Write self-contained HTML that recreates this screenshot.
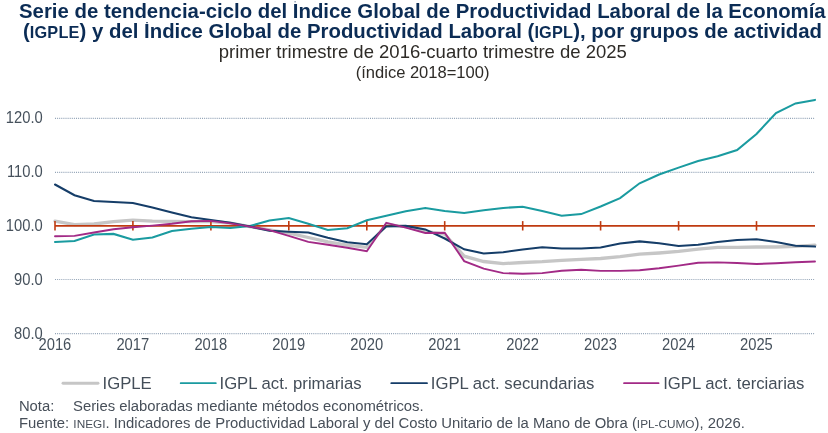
<!DOCTYPE html>
<html lang="es">
<head>
<meta charset="utf-8">
<title>IGPLE</title>
<style>
html,body{margin:0;padding:0;background:#fff;}
body{width:828px;height:433px;overflow:hidden;font-family:"Liberation Sans",sans-serif;}
svg{display:block;will-change:transform;opacity:0.9999;}
text{font-family:"Liberation Sans",sans-serif;}
.t1{font-size:20.36px;font-weight:bold;fill:#0b2c55;}
.sc{font-size:16.3px;letter-spacing:0.2px;}
.t3{font-size:18.5px;fill:#2e2b27;}
.t4{font-size:16.55px;fill:#2e2b27;}
.ax{font-size:15.75px;fill:#46515c;}
.lg{font-size:16.7px;fill:#444e59;}
.fn{font-size:14.85px;fill:#474f59;}
.fsc{font-size:11.8px;}
</style>
</head>
<body>
<svg width="828" height="433" viewBox="0 0 828 433">
<rect width="828" height="433" fill="#ffffff"/>
<text x="422.35" y="17.5" text-anchor="middle" class="t1">Serie de tendencia-ciclo del Índice Global de Productividad Laboral de la Economía</text>
<text x="422.5" y="37.8" text-anchor="middle" class="t1">(<tspan class="sc">IGPLE</tspan>) y del Índice Global de Productividad Laboral (<tspan class="sc">IGPL</tspan>), por grupos de actividad</text>
<rect x="292.5" y="0" width="8.5" height="3.4" fill="#ffffff"/>
<rect x="294.3" y="1.1" width="1.7" height="1.3" fill="#0b2c55" opacity="0.42"/>
<rect x="143.5" y="19" width="8.5" height="4.4" fill="#ffffff"/>
<rect x="146.1" y="22" width="1.8" height="1.2" fill="#0b2c55" opacity="0.8"/>
<text x="422.8" y="57.6" text-anchor="middle" class="t3">primer trimestre de 2016-cuarto trimestre de 2025</text>
<text x="422.6" y="78.2" text-anchor="middle" class="t4">(índice 2018=100)</text>
<line x1="55.0" y1="118.3" x2="815.0" y2="118.3" stroke="#93a4b7" stroke-width="1.15" stroke-dasharray="1 1.1"/>
<line x1="55.0" y1="172.3" x2="815.0" y2="172.3" stroke="#93a4b7" stroke-width="1.15" stroke-dasharray="1 1.1"/>
<line x1="55.0" y1="279.5" x2="815.0" y2="279.5" stroke="#93a4b7" stroke-width="1.15" stroke-dasharray="1 1.1"/>
<line x1="55.0" y1="333.6" x2="815.0" y2="333.6" stroke="#93a4b7" stroke-width="1.15" stroke-dasharray="1 1.1"/>
<text transform="translate(42.7,123.2) scale(0.936,1)" text-anchor="end" class="ax">120.0</text>
<text transform="translate(42.7,177.2) scale(0.936,1)" text-anchor="end" class="ax">110.0</text>
<text transform="translate(42.7,230.7) scale(0.936,1)" text-anchor="end" class="ax">100.0</text>
<text transform="translate(42.7,284.8) scale(0.936,1)" text-anchor="end" class="ax">90.0</text>
<text transform="translate(42.7,338.9) scale(0.936,1)" text-anchor="end" class="ax">80.0</text>
<text transform="translate(54.9,350.0) scale(0.936,1)" text-anchor="middle" class="ax">2016</text>
<text transform="translate(132.8,350.0) scale(0.936,1)" text-anchor="middle" class="ax">2017</text>
<text transform="translate(210.8,350.0) scale(0.936,1)" text-anchor="middle" class="ax">2018</text>
<text transform="translate(288.7,350.0) scale(0.936,1)" text-anchor="middle" class="ax">2019</text>
<text transform="translate(366.7,350.0) scale(0.936,1)" text-anchor="middle" class="ax">2020</text>
<text transform="translate(444.6,350.0) scale(0.936,1)" text-anchor="middle" class="ax">2021</text>
<text transform="translate(522.6,350.0) scale(0.936,1)" text-anchor="middle" class="ax">2022</text>
<text transform="translate(600.5,350.0) scale(0.936,1)" text-anchor="middle" class="ax">2023</text>
<text transform="translate(678.5,350.0) scale(0.936,1)" text-anchor="middle" class="ax">2024</text>
<text transform="translate(756.4,350.0) scale(0.936,1)" text-anchor="middle" class="ax">2025</text>
<polyline points="55.0,221.2 74.5,224.6 94.0,224.0 113.5,221.6 132.9,220.2 152.4,221.1 171.9,221.4 191.4,221.6 210.9,221.5 230.4,223.2 249.9,226.6 269.4,229.8 288.8,233.2 308.3,237.5 327.8,241.9 347.3,245.1 366.8,247.3 386.3,224.7 405.8,226.6 425.3,231.3 444.7,234.2 464.2,256.2 483.7,261.5 503.2,263.6 522.7,262.5 542.2,261.7 561.7,260.3 581.2,259.3 600.6,258.5 620.1,256.6 639.6,254.2 659.1,253.0 678.6,251.4 698.1,249.2 717.6,247.3 737.1,247.3 756.5,247.0 776.0,247.0 795.5,246.3 815.0,245.1" fill="none" stroke="#c6c6c6" stroke-width="3.3" stroke-linejoin="miter" stroke-linecap="round"/>
<line x1="55.0" y1="225.8" x2="815.0" y2="225.8" stroke="#bf3a10" stroke-width="1.8"/>
<line x1="55.0" y1="221.1" x2="55.0" y2="230.5" stroke="#bf3a10" stroke-width="1.6"/>
<line x1="132.9" y1="221.1" x2="132.9" y2="230.5" stroke="#bf3a10" stroke-width="1.6"/>
<line x1="210.9" y1="221.1" x2="210.9" y2="230.5" stroke="#bf3a10" stroke-width="1.6"/>
<line x1="288.8" y1="221.1" x2="288.8" y2="230.5" stroke="#bf3a10" stroke-width="1.6"/>
<line x1="366.8" y1="221.1" x2="366.8" y2="230.5" stroke="#bf3a10" stroke-width="1.6"/>
<line x1="444.7" y1="221.1" x2="444.7" y2="230.5" stroke="#bf3a10" stroke-width="1.6"/>
<line x1="522.7" y1="221.1" x2="522.7" y2="230.5" stroke="#bf3a10" stroke-width="1.6"/>
<line x1="600.6" y1="221.1" x2="600.6" y2="230.5" stroke="#bf3a10" stroke-width="1.6"/>
<line x1="678.6" y1="221.1" x2="678.6" y2="230.5" stroke="#bf3a10" stroke-width="1.6"/>
<line x1="756.5" y1="221.1" x2="756.5" y2="230.5" stroke="#bf3a10" stroke-width="1.6"/>
<polyline points="55.0,242.0 74.5,241.0 94.0,234.6 113.5,233.9 132.9,239.7 152.4,237.5 171.9,231.0 191.4,228.7 210.9,227.0 230.4,227.9 249.9,226.0 269.4,220.4 288.8,218.1 308.3,223.8 327.8,230.0 347.3,228.2 366.8,220.3 386.3,215.7 405.8,211.3 425.3,208.0 444.7,210.9 464.2,213.0 483.7,210.2 503.2,207.9 522.7,206.8 542.2,211.1 561.7,215.8 581.2,214.1 600.6,206.5 620.1,198.1 639.6,183.3 659.1,174.5 678.6,167.6 698.1,161.1 717.6,156.3 737.1,150.0 756.5,134.0 776.0,113.0 795.5,103.4 815.0,99.9" fill="none" stroke="#1a9ba0" stroke-width="2.05" stroke-linejoin="miter" stroke-linecap="round"/>
<polyline points="55.0,184.5 74.5,195.2 94.0,201.0 113.5,202.0 132.9,203.0 152.4,207.5 171.9,212.5 191.4,217.3 210.9,220.0 230.4,222.8 249.9,226.6 269.4,230.8 288.8,231.8 308.3,232.4 327.8,237.8 347.3,242.2 366.8,244.3 386.3,226.6 405.8,225.9 425.3,229.4 444.7,238.5 464.2,249.3 483.7,253.4 503.2,252.3 522.7,249.4 542.2,247.3 561.7,248.4 581.2,248.4 600.6,247.6 620.1,243.6 639.6,241.4 659.1,243.2 678.6,246.0 698.1,244.8 717.6,241.9 737.1,240.0 756.5,239.3 776.0,241.9 795.5,245.8 815.0,246.6" fill="none" stroke="#153d68" stroke-width="2.05" stroke-linejoin="miter" stroke-linecap="round"/>
<polyline points="55.0,236.2 74.5,235.9 94.0,232.5 113.5,229.3 132.9,227.2 152.4,225.6 171.9,223.7 191.4,221.2 210.9,220.9 230.4,223.4 249.9,226.6 269.4,230.1 288.8,235.9 308.3,241.9 327.8,244.8 347.3,247.7 366.8,251.2 386.3,222.8 405.8,227.6 425.3,233.0 444.7,232.7 464.2,261.1 483.7,268.7 503.2,273.1 522.7,273.8 542.2,273.1 561.7,270.7 581.2,269.8 600.6,270.9 620.1,270.9 639.6,270.3 659.1,268.2 678.6,265.6 698.1,262.7 717.6,262.4 737.1,263.0 756.5,264.0 776.0,263.3 795.5,262.3 815.0,261.5" fill="none" stroke="#a22a86" stroke-width="1.9" stroke-linejoin="miter" stroke-linecap="round"/>
<line x1="63" y1="383.2" x2="98" y2="383.2" stroke="#c6c6c6" stroke-width="2.9" stroke-linecap="round"/>
<text x="102.6" y="388.8" class="lg">IGPLE</text>
<line x1="180.7" y1="383.2" x2="215.8" y2="383.2" stroke="#1a9ba0" stroke-width="1.8" stroke-linecap="round"/>
<text x="219.5" y="388.8" class="lg">IGPL act. primarias</text>
<line x1="391.3" y1="383.2" x2="427" y2="383.2" stroke="#153d68" stroke-width="1.8" stroke-linecap="round"/>
<text x="430.8" y="388.8" class="lg">IGPL act. secundarias</text>
<line x1="624" y1="383.2" x2="658.6" y2="383.2" stroke="#a22a86" stroke-width="1.7" stroke-linecap="round"/>
<text x="663.2" y="388.8" class="lg">IGPL act. terciarias</text>
<text x="18.9" y="411.2" class="fn">Nota:</text>
<text x="73" y="411.2" class="fn">Series elaboradas mediante métodos econométricos.</text>
<text x="18.9" y="428.2" class="fn">Fuente: <tspan class="fsc">INEGI</tspan>. Indicadores de Productividad Laboral y del Costo Unitario de la Mano de Obra (<tspan class="fsc">IPL-CUMO</tspan>), 2026.</text>
</svg>
</body>
</html>
